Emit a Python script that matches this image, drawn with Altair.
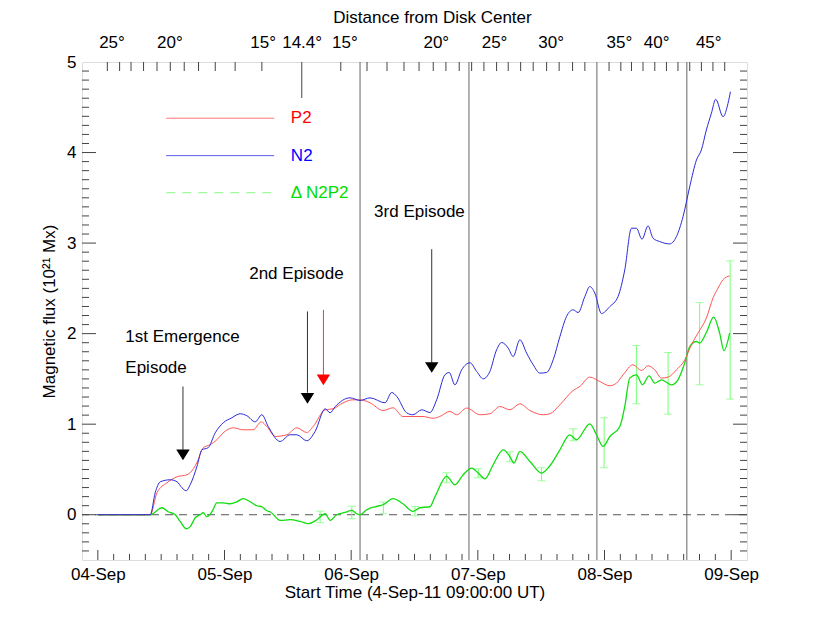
import altair as alt
import pandas as pd

# ---------------- data (time in days after the 04-Sep tick, flux in 1e21 Mx) ----------------
p2_t = [0, 0.414, 0.467, 0.546, 0.625, 0.703, 0.729, 0.782, 0.832, 0.887, 0.940, 0.990, 1.069, 1.147,
        1.226, 1.290, 1.334, 1.400, 1.492, 1.571, 1.650, 1.700, 1.795, 1.857, 1.936, 2.015, 2.070, 2.149,
        2.252, 2.331, 2.409, 2.488, 2.567, 2.646, 2.700, 2.780, 2.833, 2.912, 3.017, 3.095, 3.174, 3.253,
        3.332, 3.411, 3.516, 3.569, 3.648, 3.752, 3.805, 3.884, 3.963, 4.042, 4.095, 4.147, 4.225, 4.292,
        4.344, 4.397, 4.450, 4.502, 4.568, 4.634, 4.686, 4.738, 4.804, 4.857, 4.896, 4.935, 4.988]
p2_v = [0, 0, 0.243, 0.353, 0.419, 0.441, 0.464, 0.574, 0.740, 0.773, 0.828, 0.905, 0.960, 0.938,
        0.938, 1.025, 0.975, 0.865, 0.883, 0.960, 0.908, 0.975, 1.159, 1.170, 1.236, 1.269, 1.269, 1.236,
        1.151, 1.181, 1.085, 1.085, 1.085, 1.065, 1.085, 1.141, 1.104, 1.178, 1.104, 1.115, 1.195, 1.159,
        1.225, 1.151, 1.104, 1.115, 1.214, 1.372, 1.416, 1.520, 1.471, 1.424, 1.454, 1.545, 1.656, 1.593,
        1.645, 1.600, 1.509, 1.520, 1.600, 1.711, 1.876, 2.006, 2.171, 2.395, 2.502, 2.594, 2.638]

n2_t = [0, 0.414, 0.453, 0.493, 0.572, 0.625, 0.664, 0.698, 0.729, 0.782, 0.822, 0.871, 0.927, 0.990,
        1.058, 1.124, 1.177, 1.242, 1.295, 1.345, 1.439, 1.518, 1.571, 1.650, 1.715, 1.795, 1.834, 1.873,
        1.991, 2.070, 2.149, 2.267, 2.320, 2.360, 2.438, 2.488, 2.557, 2.622, 2.675, 2.740, 2.774, 2.819,
        2.872, 2.938, 2.991, 3.043, 3.095, 3.148, 3.188, 3.240, 3.279, 3.332, 3.385, 3.437, 3.490, 3.543,
        3.595, 3.648, 3.700, 3.752, 3.792, 3.845, 3.884, 3.924, 3.976, 4.042, 4.107, 4.160, 4.213, 4.252,
        4.296, 4.344, 4.383, 4.436, 4.515, 4.568, 4.620, 4.673, 4.726, 4.765, 4.804, 4.844, 4.878, 4.936,
        4.975, 4.994]
n2_v = [0, 0, 0.243, 0.364, 0.386, 0.364, 0.298, 0.265, 0.331, 0.530, 0.717, 0.740, 0.905, 1.015,
        1.071, 1.115, 1.093, 1.026, 1.104, 0.975, 0.809, 0.883, 0.883, 0.817, 0.919, 1.170, 1.126, 1.192,
        1.291, 1.262, 1.291, 1.236, 1.350, 1.306, 1.126, 1.104, 1.159, 1.129, 1.269, 1.545, 1.571, 1.435,
        1.600, 1.678, 1.582, 1.501, 1.582, 1.821, 1.902, 1.840, 1.747, 1.932, 1.785, 1.656, 1.564, 1.571,
        1.711, 1.968, 2.189, 2.263, 2.233, 2.410, 2.520, 2.447, 2.222, 2.299, 2.410, 2.704, 3.164, 3.164,
        3.043, 3.190, 3.054, 3.017, 2.991, 3.072, 3.292, 3.624, 3.918, 4.029, 4.249, 4.434, 4.588, 4.396,
        4.543, 4.672]

d_t = [0, 0.414, 0.506, 0.556, 0.611, 0.651, 0.698, 0.729, 0.769, 0.808, 0.832, 0.861, 0.901, 0.940,
       0.990, 1.045, 1.098, 1.147, 1.203, 1.256, 1.295, 1.334, 1.360, 1.439, 1.518, 1.597, 1.662, 1.729,
       1.795, 1.834, 1.886, 1.952, 2.005, 2.044, 2.070, 2.123, 2.188, 2.252, 2.331, 2.409, 2.488, 2.543,
       2.622, 2.662, 2.754, 2.819, 2.885, 2.951, 3.003, 3.056, 3.121, 3.200, 3.253, 3.285, 3.332, 3.411,
       3.503, 3.569, 3.648, 3.726, 3.779, 3.884, 3.937, 3.989, 4.042, 4.121, 4.160, 4.199, 4.252, 4.300,
       4.352, 4.397, 4.450, 4.528, 4.580, 4.633, 4.673, 4.726, 4.751, 4.804, 4.862, 4.909, 4.943, 4.988]
d_v = [0, 0, 0.077, 0.033, 0, -0.077, -0.155, -0.132, -0.033, 0, 0.022, -0.022, 0.033, 0.132,
       0.132, 0.121, 0.143, 0.177, 0.143, 0.099, 0.088, 0.044, 0.033, -0.063, -0.055, -0.074, -0.099, -0.055,
       0.011, -0.063, 0, 0.025, 0.047, 0.011, 0, 0.055, 0.088, 0.110, 0.177, 0.121, 0.036, 0.077,
       0.088, 0.200, 0.423, 0.331, 0.442, 0.515, 0.460, 0.397, 0.552, 0.717, 0.643, 0.571, 0.699, 0.588,
       0.460, 0.541, 0.717, 0.883, 0.828, 1.004, 0.883, 0.754, 0.864, 0.975, 1.195, 1.509, 1.545, 1.435,
       1.534, 1.454, 1.490, 1.435, 1.490, 1.674, 1.858, 1.913, 1.895, 2.012, 2.182, 2.006, 1.813, 2.006]

err_t = [1.755, 2.005, 2.254, 2.504, 2.754, 3.003, 3.253, 3.503, 3.752, 3.997, 4.252, 4.502, 4.751, 4.992]
err_lo = [-0.088, -0.044, 0.011, -0.011, 0.353, 0.408, 0.585, 0.375, 0.817, 0.519, 1.225, 1.111, 1.435, 1.277]
err_hi = [0.039, 0.094, 0.140, 0.092, 0.464, 0.508, 0.695, 0.519, 0.949, 1.071, 1.869, 1.791, 2.343, 2.804]

vline_t = [2.07, 2.93, 3.94, 4.65]

day_ticks = [0, 1, 2, 3, 4, 5]
day_labels = ["04-Sep", "05-Sep", "06-Sep", "07-Sep", "08-Sep", "09-Sep"]

deg_label_t = [0.112, 0.569, 1.305, 1.613, 1.950, 2.672, 3.132, 3.579, 4.118, 4.412, 4.823]
deg_labels = ["25°", "20°", "15°", "14.4°", "15°", "20°", "25°", "30°", "35°", "40°", "45°"]
deg_tick_t = [0.075, 0.172, 0.262, 0.361, 0.467, 0.572, 0.682, 0.795, 0.927, 1.084, 1.295, 1.918,
              2.125, 2.283, 2.417, 2.536, 2.648, 2.748, 2.853, 2.951, 3.048, 3.148, 3.240, 3.338,
              3.437, 3.543, 3.642, 3.748, 3.845, 4.036, 4.129, 4.213, 4.304, 4.397, 4.489, 4.580,
              4.673, 4.765, 4.856, 4.949]
min_deg_t = [1.610]

# arrows: x, shaft top, shaft bottom, head centre
arrow_t = [0.672, 1.655, 2.636]
arrow_top = [1.416, 2.245, 2.933]
arrow_bot = [0.717, 1.347, 1.681]
arrow_head = [0.662, 1.286, 1.626]
red_arrow_t = [1.781]
red_arrow_top = [2.263]
red_arrow_bot = [1.545]
red_arrow_head = [1.490]

note_t = [0.217, 0.217, 1.195, 2.181]
note_v = [1.965, 1.623, 2.660, 3.344]
note_text = ["1st Emergence", "Episode", "2nd Episode", "3rd Episode"]

leg_t0, leg_t1, leg_text_t = 0.540, 1.392, 1.524
leg_v = [4.379, 3.966, 3.557]
leg_names = ["P2", "N2", "Δ N2P2"]

# ---------------- chart ----------------
W, H = 665, 498
FONT = "Liberation Sans"
FS = 17
xs = alt.Scale(domain=[-0.125, 5.125], nice=False, zero=False)
ys = alt.Scale(domain=[-0.5, 5], nice=False, zero=False)
label_expr = "[" + ",".join("'%s'" % s for s in day_labels) + "][datum.value]"
xax = alt.Axis(values=day_ticks, labelExpr=label_expr, ticks=False, tickSize=0, domain=False, grid=False,
              labelFontSize=FS, labelFont=FONT, labelPadding=6, labelColor="black",
              title="Start Time (4-Sep-11 09:00:00 UT)", titleFontSize=FS, titleFont=FONT,
              titleFontWeight="normal", titlePadding=2, titleColor="black")
yax = alt.Axis(values=[0, 1, 2, 3, 4, 5], ticks=False, tickSize=0, domain=False, grid=False,
              labelFontSize=FS, labelFont=FONT, labelPadding=6, labelColor="black",
              title="Magnetic flux (10²¹ Mx)", titleFontSize=FS, titleFont=FONT,
              titleFontWeight="normal", titlePadding=8, titleColor="black")


def X(f):
    return alt.X(f, type="quantitative", scale=xs, axis=xax)


def Y(f):
    return alt.Y(f, type="quantitative", scale=ys, axis=yax)


FRAME = "#444444"

p2 = pd.DataFrame({"t": p2_t, "v": p2_v})
n2 = pd.DataFrame({"t": n2_t, "v": n2_v})
dd = pd.DataFrame({"t": d_t, "v": d_v})
err = pd.DataFrame({"t": err_t, "v": err_lo, "v2": err_hi})

layers = []
# vertical reference lines
layers.append(alt.Chart(pd.DataFrame({"t": vline_t})).mark_rule(color="#666666", strokeWidth=1)
              .encode(x=X("t")))
# zero dashed line
layers.append(alt.Chart(pd.DataFrame({"v": [0]})).mark_rule(color="#555555", strokeWidth=1, strokeDash=[8, 6])
              .encode(y=Y("v")))
# error bars
layers.append(alt.Chart(err).mark_rule(color="#77ff77", strokeWidth=1).encode(x=X("t"), y=Y("v"), y2="v2"))
layers.append(alt.Chart(err).mark_tick(color="#77ff77", orient="horizontal", size=8, thickness=1)
              .encode(x=X("t"), y=Y("v")))
layers.append(alt.Chart(err).mark_tick(color="#77ff77", orient="horizontal", size=8, thickness=1)
              .encode(x=X("t"), y=Y("v2")))
# curves
layers.append(alt.Chart(dd).mark_line(color="#11dd11", strokeWidth=1.3, interpolate="monotone")
              .encode(x=X("t"), y=Y("v")))
layers.append(alt.Chart(p2).mark_line(color="#ff5555", strokeWidth=1, interpolate="monotone")
              .encode(x=X("t"), y=Y("v")))
layers.append(alt.Chart(n2).mark_line(color="#2a2ad8", strokeWidth=1, interpolate="monotone")
              .encode(x=X("t"), y=Y("v")))

# arrows
arr = pd.DataFrame({"t": arrow_t, "v": arrow_top, "v2": arrow_bot, "h": arrow_head})
rarr = pd.DataFrame({"t": red_arrow_t, "v": red_arrow_top, "v2": red_arrow_bot, "h": red_arrow_head})
TRI = "M-1,-0.8L1,-0.8L0,0.8Z"
layers.append(alt.Chart(arr).mark_rule(color="#333333", strokeWidth=1).encode(x=X("t"), y=Y("v"), y2="v2"))
layers.append(alt.Chart(arr).mark_point(shape=TRI, size=180, filled=True, color="black", opacity=1,
                                         strokeWidth=0).encode(x=X("t"), y=Y("h")))
layers.append(alt.Chart(rarr).mark_rule(color="#ff3333", strokeWidth=1).encode(x=X("t"), y=Y("v"), y2="v2"))
layers.append(alt.Chart(rarr).mark_point(shape=TRI, size=180, filled=True, color="#ff0000", opacity=1,
                                          strokeWidth=0).encode(x=X("t"), y=Y("h")))

# annotations
notes = pd.DataFrame({"t": note_t, "v": note_v, "s": note_text})
layers.append(alt.Chart(notes).mark_text(align="left", baseline="middle", fontSize=FS, font=FONT, color="black")
              .encode(x=X("t"), y=Y("v"), text="s"))

# legend
leg = pd.DataFrame({"t": [leg_t0] * 3, "t2": [leg_t1] * 3, "v": leg_v, "s": leg_names,
                    "tt": [leg_text_t] * 3})
leg_cols = ["#ff6666", "#4444e0", "#88ff88"]
text_cols = ["#ff0000", "#0000ff", "#00dd00"]
for i in range(3):
    row = leg.iloc[[i]]
    rule = alt.Chart(row).mark_rule(color=leg_cols[i], strokeWidth=1,
                                    strokeDash=[9, 7] if i == 2 else [1, 0])
    layers.append(rule.encode(x=X("t"), x2="t2", y=Y("v")))
    layers.append(alt.Chart(row).mark_text(align="left", baseline="middle", fontSize=FS, font=FONT,
                                           color=text_cols[i]).encode(x=X("tt"), y=Y("v"), text="s"))

# inward axis ticks
ymaj = pd.DataFrame({"v": [0, 1, 2, 3, 4]})
ymin = pd.DataFrame({"v": [round(k * 0.1, 1) for k in range(-4, 50) if k % 10 != 0]})
for df, ln in ((ymaj, 14), (ymin, 7)):
    layers.append(alt.Chart(df).mark_rule(color=FRAME, strokeWidth=1)
                  .encode(y=Y("v"), x=alt.value(0), x2=alt.value(ln)))
    layers.append(alt.Chart(df).mark_rule(color=FRAME, strokeWidth=1)
                  .encode(y=Y("v"), x=alt.value(W - ln), x2=alt.value(W)))
xmaj = pd.DataFrame({"t": day_ticks})
xmin = pd.DataFrame({"t": [k * 0.125 for k in range(0, 41) if k % 8 != 0]})
for df, ln in ((xmaj, 10), (xmin, 6)):
    layers.append(alt.Chart(df).mark_rule(color=FRAME, strokeWidth=1)
                  .encode(x=X("t"), y=alt.value(H), y2=alt.value(H - ln)))
layers.append(alt.Chart(pd.DataFrame({"t": deg_tick_t})).mark_rule(color=FRAME, strokeWidth=1)
              .encode(x=X("t"), y=alt.value(0), y2=alt.value(9)))
layers.append(alt.Chart(pd.DataFrame({"t": min_deg_t})).mark_rule(color=FRAME, strokeWidth=1)
              .encode(x=X("t"), y=alt.value(0), y2=alt.value(36)))

# top (distance from disk centre) labels and title
layers.append(alt.Chart(pd.DataFrame({"t": deg_label_t, "s": deg_labels}))
              .mark_text(align="center", baseline="middle", fontSize=FS, font=FONT, color="black")
              .encode(x=X("t"), y=alt.value(-19), text="s"))
layers.append(alt.Chart(pd.DataFrame({"s": ["Distance from Disk Center"]}))
              .mark_text(align="center", baseline="middle", fontSize=FS, font=FONT, color="black")
              .encode(x=alt.value(W / 2 + 18), y=alt.value(-44), text="s"))

chart = (alt.layer(*layers)
         .properties(width=W, height=H, autosize=alt.AutoSizeParams(type="none"),
                     padding={"left": 74, "top": 54, "right": 60, "bottom": 50})
         .configure_view(stroke=FRAME, strokeWidth=1)
         .configure(background="white"))

chart.save("out.html", embed_options={"renderer": "svg", "actions": False})
